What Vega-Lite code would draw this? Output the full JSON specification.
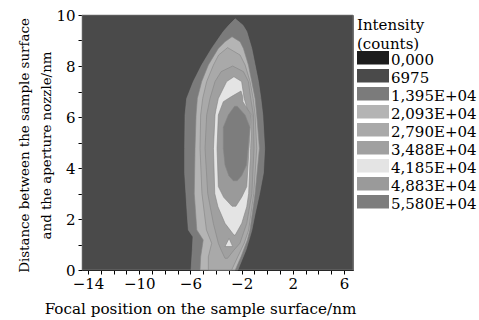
{
  "$schema": "https://vega.github.io/schema/vega-lite/v6.json",
  "width": 271,
  "height": 255,
  "autosize": {"type": "none"},
  "padding": {"left": 82, "top": 15, "right": 126, "bottom": 50},
  "background": "white",
  "config": {"font": "DejaVu Serif", "view": {"stroke": "#6a6a6a", "strokeWidth": 1}},
  "data": {"values": [
    {"level": "6975", "region": "R1", "y": 0, "x0": -14.47, "x1": 6.7},
    {"level": "6975", "region": "R1", "y": 10, "x0": -14.47, "x1": 6.7},

    {"level": "1,395E+04", "region": "R2", "y": 9.85, "x0": -2.5, "x1": -2.5},
    {"level": "1,395E+04", "region": "R2", "y": 9.6, "x0": -3.0, "x1": -1.9},
    {"level": "1,395E+04", "region": "R2", "y": 9.35, "x0": -3.43, "x1": -1.6},
    {"level": "1,395E+04", "region": "R2", "y": 8.69, "x0": -4.34, "x1": -1.21},
    {"level": "1,395E+04", "region": "R2", "y": 8.04, "x0": -5.12, "x1": -0.95},
    {"level": "1,395E+04", "region": "R2", "y": 7.39, "x0": -5.77, "x1": -0.69},
    {"level": "1,395E+04", "region": "R2", "y": 6.73, "x0": -6.29, "x1": -0.5},
    {"level": "1,395E+04", "region": "R2", "y": 6.08, "x0": -6.42, "x1": -0.35},
    {"level": "1,395E+04", "region": "R2", "y": 4.77, "x0": -6.45, "x1": -0.2},
    {"level": "1,395E+04", "region": "R2", "y": 3.8, "x0": -6.45, "x1": -0.3},
    {"level": "1,395E+04", "region": "R2", "y": 3.0, "x0": -6.35, "x1": -0.6},
    {"level": "1,395E+04", "region": "R2", "y": 2.2, "x0": -6.25, "x1": -0.95},
    {"level": "1,395E+04", "region": "R2", "y": 1.57, "x0": -6.16, "x1": -1.2},
    {"level": "1,395E+04", "region": "R2", "y": 1.3, "x0": -5.8, "x1": -1.35},
    {"level": "1,395E+04", "region": "R2", "y": 0.8, "x0": -5.85, "x1": -1.65},
    {"level": "1,395E+04", "region": "R2", "y": 0, "x0": -5.95, "x1": -2.3},

    {"level": "2,093E+04", "region": "R3", "y": 9.15, "x0": -2.75, "x1": -2.75},
    {"level": "2,093E+04", "region": "R3", "y": 8.95, "x0": -3.3, "x1": -2.12},
    {"level": "2,093E+04", "region": "R3", "y": 8.69, "x0": -3.82, "x1": -1.86},
    {"level": "2,093E+04", "region": "R3", "y": 8.04, "x0": -4.6, "x1": -1.47},
    {"level": "2,093E+04", "region": "R3", "y": 7.39, "x0": -5.12, "x1": -1.21},
    {"level": "2,093E+04", "region": "R3", "y": 6.73, "x0": -5.46, "x1": -0.95},
    {"level": "2,093E+04", "region": "R3", "y": 6.08, "x0": -5.56, "x1": -0.82},
    {"level": "2,093E+04", "region": "R3", "y": 4.77, "x0": -5.64, "x1": -0.61},
    {"level": "2,093E+04", "region": "R3", "y": 3.0, "x0": -5.7, "x1": -0.95},
    {"level": "2,093E+04", "region": "R3", "y": 1.57, "x0": -5.5, "x1": -1.35},
    {"level": "2,093E+04", "region": "R3", "y": 1.18, "x0": -5.0, "x1": -1.55},
    {"level": "2,093E+04", "region": "R3", "y": 0.52, "x0": -5.2, "x1": -2.05},
    {"level": "2,093E+04", "region": "R3", "y": 0, "x0": -5.25, "x1": -2.5},

    {"level": "2,790E+04", "region": "R4", "y": 8.72, "x0": -3.1, "x1": -3.1},
    {"level": "2,790E+04", "region": "R4", "y": 8.43, "x0": -3.8, "x1": -2.12},
    {"level": "2,790E+04", "region": "R4", "y": 8.04, "x0": -4.2, "x1": -1.73},
    {"level": "2,790E+04", "region": "R4", "y": 7.39, "x0": -4.73, "x1": -1.34},
    {"level": "2,790E+04", "region": "R4", "y": 6.73, "x0": -5.04, "x1": -1.1},
    {"level": "2,790E+04", "region": "R4", "y": 6.08, "x0": -5.2, "x1": -0.95},
    {"level": "2,790E+04", "region": "R4", "y": 4.77, "x0": -5.25, "x1": -0.82},
    {"level": "2,790E+04", "region": "R4", "y": 3.0, "x0": -5.1, "x1": -1.05},
    {"level": "2,790E+04", "region": "R4", "y": 1.57, "x0": -4.75, "x1": -1.45},
    {"level": "2,790E+04", "region": "R4", "y": 1.05, "x0": -4.34, "x1": -1.8},
    {"level": "2,790E+04", "region": "R4", "y": 0.52, "x0": -4.6, "x1": -2.3},
    {"level": "2,790E+04", "region": "R4", "y": 0, "x0": -4.6, "x1": -2.78},

    {"level": "3,488E+04", "region": "R5", "y": 8.0, "x0": -2.7, "x1": -2.7},
    {"level": "3,488E+04", "region": "R5", "y": 7.78, "x0": -3.6, "x1": -1.86},
    {"level": "3,488E+04", "region": "R5", "y": 7.39, "x0": -4.08, "x1": -1.47},
    {"level": "3,488E+04", "region": "R5", "y": 6.73, "x0": -4.47, "x1": -1.29},
    {"level": "3,488E+04", "region": "R5", "y": 6.08, "x0": -4.73, "x1": -1.08},
    {"level": "3,488E+04", "region": "R5", "y": 4.77, "x0": -4.86, "x1": -1.03},
    {"level": "3,488E+04", "region": "R5", "y": 3.0, "x0": -4.65, "x1": -1.2},
    {"level": "3,488E+04", "region": "R5", "y": 1.83, "x0": -4.21, "x1": -1.6},
    {"level": "3,488E+04", "region": "R5", "y": 1.05, "x0": -3.82, "x1": -2.13},
    {"level": "3,488E+04", "region": "R5", "y": 0.78, "x0": -3.6, "x1": -2.6},
    {"level": "3,488E+04", "region": "R5", "y": 0.46, "x0": -3.3, "x1": -3.1},

    {"level": "4,185E+04", "region": "R6", "y": 7.58, "x0": -2.6, "x1": -2.6},
    {"level": "4,185E+04", "region": "R6", "y": 7.39, "x0": -3.17, "x1": -2.0},
    {"level": "4,185E+04", "region": "R6", "y": 6.73, "x0": -3.82, "x1": -1.8},
    {"level": "4,185E+04", "region": "R6", "y": 6.3, "x0": -4.0, "x1": -1.55},
    {"level": "4,185E+04", "region": "R6", "y": 6.08, "x0": -4.08, "x1": -1.21},
    {"level": "4,185E+04", "region": "R6", "y": 4.77, "x0": -4.2, "x1": -1.3},
    {"level": "4,185E+04", "region": "R6", "y": 3.0, "x0": -4.1, "x1": -1.45},
    {"level": "4,185E+04", "region": "R6", "y": 2.48, "x0": -3.85, "x1": -1.6},
    {"level": "4,185E+04", "region": "R6", "y": 1.83, "x0": -3.3, "x1": -1.99},
    {"level": "4,185E+04", "region": "R6", "y": 1.37, "x0": -2.6, "x1": -2.5},
    {"level": "4,185E+04", "region": "R6b", "y": 1.24, "x0": -2.98, "x1": -2.98},
    {"level": "4,185E+04", "region": "R6b", "y": 0.92, "x0": -3.3, "x1": -2.7},

    {"level": "4,883E+04", "region": "R7", "y": 7.02, "x0": -2.05, "x1": -2.05},
    {"level": "4,883E+04", "region": "R7", "y": 6.8, "x0": -2.8, "x1": -1.92},
    {"level": "4,883E+04", "region": "R7", "y": 6.6, "x0": -3.43, "x1": -1.9},
    {"level": "4,883E+04", "region": "R7", "y": 6.08, "x0": -3.82, "x1": -1.26},
    {"level": "4,883E+04", "region": "R7", "y": 4.77, "x0": -3.92, "x1": -1.42},
    {"level": "4,883E+04", "region": "R7", "y": 3.27, "x0": -3.82, "x1": -1.6},
    {"level": "4,883E+04", "region": "R7", "y": 2.85, "x0": -3.4, "x1": -2.0},
    {"level": "4,883E+04", "region": "R7", "y": 2.5, "x0": -2.75, "x1": -2.45},

    {"level": "5,580E+04", "region": "R8", "y": 6.42, "x0": -2.55, "x1": -2.35},
    {"level": "5,580E+04", "region": "R8", "y": 6.08, "x0": -3.04, "x1": -1.73},
    {"level": "5,580E+04", "region": "R8", "y": 5.6, "x0": -3.43, "x1": -1.36},
    {"level": "5,580E+04", "region": "R8", "y": 4.77, "x0": -3.43, "x1": -1.5},
    {"level": "5,580E+04", "region": "R8", "y": 4.12, "x0": -3.3, "x1": -1.62},
    {"level": "5,580E+04", "region": "R8", "y": 3.7, "x0": -3.0, "x1": -2.0},
    {"level": "5,580E+04", "region": "R8", "y": 3.5, "x0": -2.65, "x1": -2.35}
  ]},
  "mark": {"type": "area", "orient": "horizontal", "stroke": "#858585", "strokeWidth": 0.6, "opacity": 1, "fillOpacity": 1},
  "encoding": {
    "y": {
      "field": "y", "type": "quantitative",
      "scale": {"domain": [0, 10], "nice": false, "zero": false},
      "axis": {
        "title": ["Distance between the sample surface", "and the aperture nozzle/nm"],
        "values": [0, 1, 2, 3, 4, 5, 6, 7, 8, 9, 10],
        "labelExpr": "datum.value % 2 == 0 ? datum.label : ''",
        "grid": false, "labelFlush": false, "labelOverlap": false,
        "domainColor": "black", "domainWidth": 1, "tickColor": "black", "tickSize": 4, "tickWidth": 1,
        "labelFont": "DejaVu Serif", "labelFontSize": 15, "labelColor": "black", "labelPadding": 3,
        "titleFont": "DejaVu Serif", "titleFontSize": 13.4, "titleFontWeight": "normal", "titleColor": "black",
        "titleX": -58, "titleY": 130, "titleAngle": -90, "titleAlign": "center", "titleBaseline": "middle", "titleLineHeight": 22
      }
    },
    "x": {
      "field": "x0", "type": "quantitative",
      "scale": {"domain": [-14.47, 6.7], "nice": false, "zero": false},
      "axis": {
        "title": "Focal position on the sample surface/nm",
        "values": [-14, -13, -12, -11, -10, -9, -8, -7, -6, -5, -4, -3, -2, -1, 0, 1, 2, 3, 4, 5, 6],
        "labelExpr": "(datum.value + 14) % 4 == 0 ? datum.label : ''",
        "grid": false, "labelFlush": false, "labelOverlap": false,
        "domainColor": "black", "domainWidth": 1, "tickColor": "black", "tickSize": 4, "tickWidth": 1,
        "labelFont": "DejaVu Serif", "labelFontSize": 15, "labelColor": "black", "labelPadding": 2,
        "titleFont": "DejaVu Serif", "titleFontSize": 15.2, "titleFontWeight": "normal", "titleColor": "black",
        "titleX": 118, "titleY": 43, "titleAlign": "center", "titleBaseline": "alphabetic"
      }
    },
    "x2": {"field": "x1"},
    "color": {
      "field": "level", "type": "ordinal",
      "scale": {
        "domain": ["0,000", "6975", "1,395E+04", "2,093E+04", "2,790E+04", "3,488E+04", "4,185E+04", "4,883E+04", "5,580E+04"],
        "range": ["#1c1c1c", "#4a4a4a", "#7b7b7b", "#b4b4b4", "#a9a9a9", "#a0a0a0", "#e4e4e4", "#9a9a9a", "#7d7d7d"]
      },
      "legend": {
        "title": ["Intensity", "(counts)"],
        "orient": "none", "legendX": 275, "legendY": 3, "padding": 0,
        "titleFont": "DejaVu Serif", "titleFontSize": 15, "titleFontWeight": "normal", "titleColor": "black",
        "titleLineHeight": 19, "titlePadding": -1,
        "labelFont": "DejaVu Serif", "labelFontSize": 15, "labelColor": "black", "labelOffset": 2, "labelLimit": 200,
        "symbolType": "M-1,-0.83H1V0.28H-1Z", "symbolSize": 1024, "symbolStrokeWidth": 0, "symbolOpacity": 1,
        "clipHeight": 17.8, "rowPadding": 0
      }
    },
    "detail": {"field": "region"}
  }
}
